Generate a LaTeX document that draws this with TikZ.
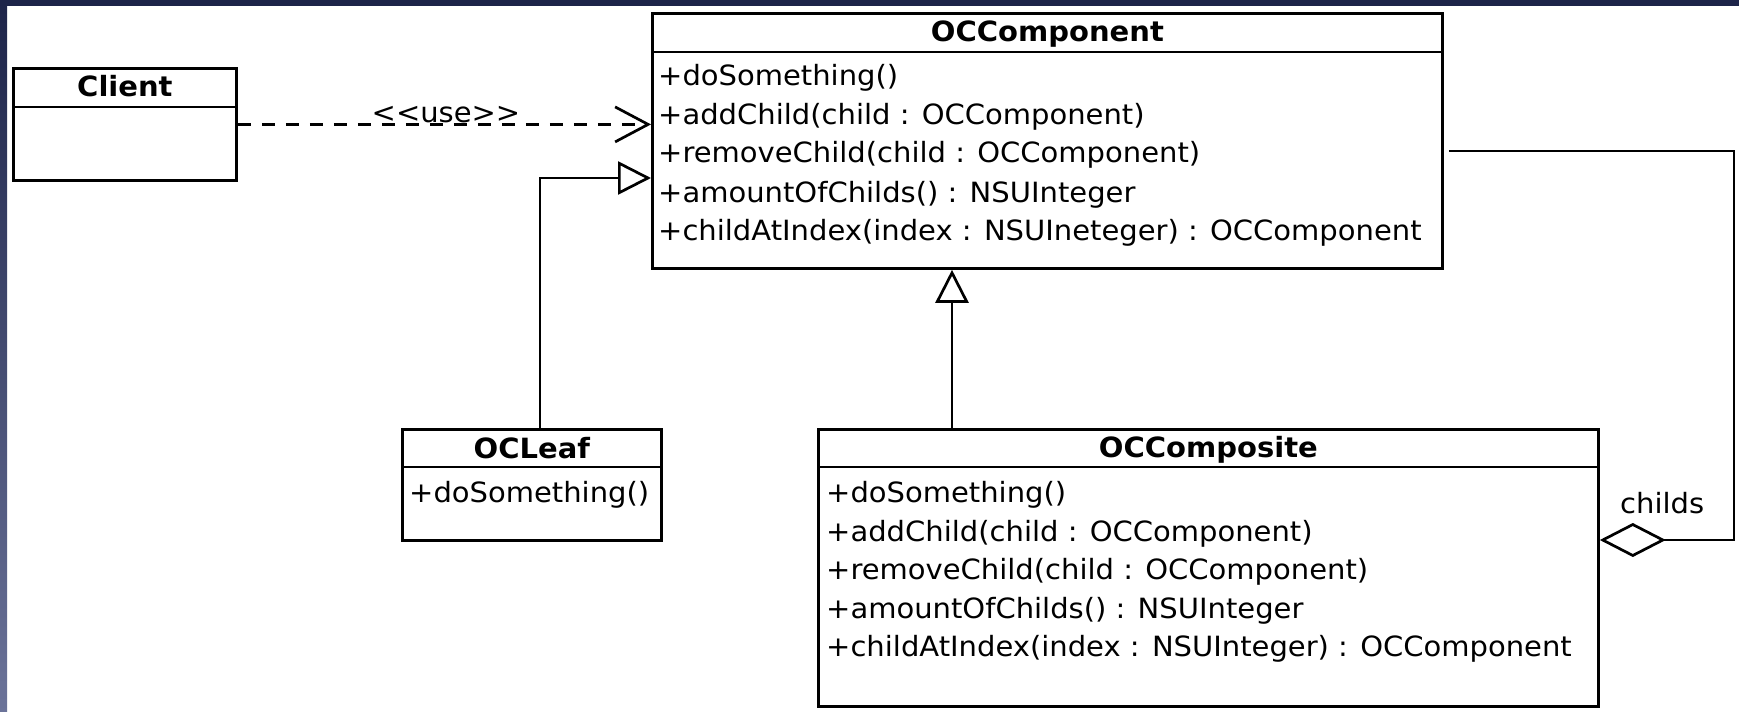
\documentclass[tikz,border=0pt]{standalone}
\usepackage{fontspec}
\setmainfont{DejaVu Sans}[FakeStretch=1.04]
\usetikzlibrary{arrows.meta,calc}

\definecolor{frameNavy}{HTML}{1D2449}
\definecolor{frameLight}{HTML}{6B7399}

\begin{document}
\begin{tikzpicture}[x=1bp,y=-1bp,
  classbox/.style={draw, line width=2.8bp, fill=white, inner sep=0pt, anchor=north west},
  divider/.style={line width=2.8bp},
  umltext/.style={font=\fontsize{28}{34}\selectfont, inner sep=0pt},
  title/.style={umltext, font=\fontsize{28}{34}\selectfont\bfseries, anchor=base},
  member/.style={umltext, anchor=base west},
  link/.style={line width=2.7bp},
  usedep/.style={link, dash pattern=on 13bp off 11bp,
    -{Straight Barb[length=33bp,width=35bp]}},
  realize/.style={link, -{Triangle[open,length=33bp,width=33bp]}},
  aggregate/.style={link, -{Diamond[open,length=66bp,width=34bp]}},
]
% page and frame
\fill[white] (0,0) rectangle (1739,712);
\shade[top color=frameNavy, bottom color=frameLight] (0,0) rectangle (7,712);
\fill[frameNavy] (0,0) rectangle (1739,6);
\useasboundingbox (0,0) rectangle (1739,712);

% Client
\node[classbox, minimum width=223bp, minimum height=112bp] (client) at (12,67) {};
\draw[divider] (client.west |- 0,107) -- (client.east |- 0,107);
\node[title] (clientName) at (client.north |- 0,97) {Client};

% OCComponent
\node[classbox, minimum width=790bp, minimum height=255bp] (comp) at (651,12) {};
\draw[divider] (comp.west |- 0,52) -- (comp.east |- 0,52);
\node[title] (compName) at (comp.north |- 0,42) {OCComponent};
\node[member] (compM1) at (658,86)  {+doSomething()};
\node[member] (compM2) at (658,125) {+addChild(child : OCComponent)};
\node[member] (compM3) at (658,163) {+removeChild(child : OCComponent)};
\node[member] (compM4) at (658,202) {+amountOfChilds() : NSUInteger};
\node[member] (compM5) at (658,240) {+childAtIndex(index : NSUIneteger) : OCComponent};

% OCLeaf
\node[classbox, minimum width=259bp, minimum height=111bp] (leaf) at (401,428) {};
\draw[divider] (leaf.west |- 0,467) -- (leaf.east |- 0,467);
\node[title] (leafName) at (leaf.north |- 0,458) {OCLeaf};
\node[member] (leafM1) at (409,502) {+doSomething()};

% OCComposite
\node[classbox, minimum width=780bp, minimum height=277bp] (compo) at (817,428) {};
\draw[divider] (compo.west |- 0,467) -- (compo.east |- 0,467);
\node[title] (compoName) at (compo.north |- 0,457) {OCComposite};
\node[member] (compoM1) at (826,502) {+doSomething()};
\node[member] (compoM2) at (826,541) {+addChild(child : OCComponent)};
\node[member] (compoM3) at (826,579) {+removeChild(child : OCComponent)};
\node[member] (compoM4) at (826,618) {+amountOfChilds() : NSUInteger};
\node[member] (compoM5) at (826,656) {+childAtIndex(index : NSUInteger) : OCComponent};

% Client uses OCComponent
\draw[usedep] (client.east) -- (client.east -| comp.west);
\node[umltext, anchor=base] (useLbl) at (446,123) {<\kern0pt<use>\kern0pt>};

% OCLeaf realizes OCComponent
\coordinate (leafBend) at (540,178);
\draw[realize] (leafBend |- leaf.north) -- (leafBend) -- (leafBend -| comp.west);

% OCComposite realizes OCComponent
\coordinate (compoUp) at (952,428);
\draw[realize] (compoUp |- compo.north) -- (compoUp |- comp.south);

% OCComposite aggregates OCComponent children
\coordinate (aggNE) at (1734,151);
\coordinate (aggSE) at (1734,540);
\draw[aggregate] ([xshift=5bp]comp.east |- aggNE) -- (aggNE) -- (aggSE) -- (aggSE -| compo.east);
\node[member] (childsLbl) at (1620,513) {childs};
\end{tikzpicture}
\end{document}
